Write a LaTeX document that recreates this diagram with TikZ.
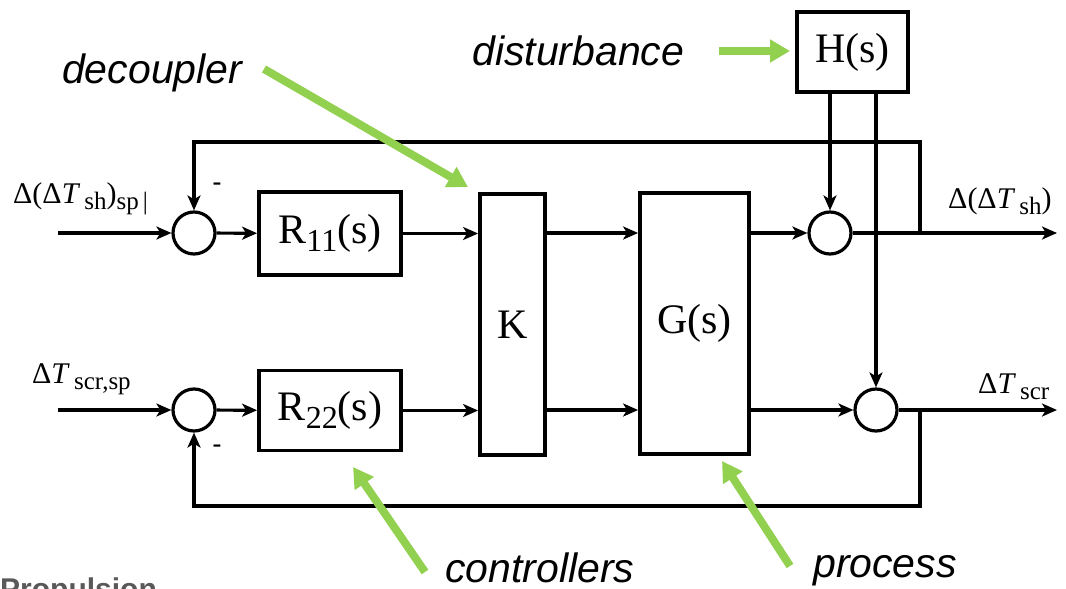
\documentclass[tikz,border=0pt]{standalone}
\usepackage{fontspec}
\setmainfont{Liberation Serif}
\newfontfamily\lsans{Liberation Sans}
\usetikzlibrary{arrows.meta}
\definecolor{grn}{HTML}{92D050}
\newcommand\fs[1]{\fontsize{#1}{#1}\selectfont}
\newcommand\sbx[1]{\raisebox{-6pt}{\fs{25}#1}}
\newcommand\sbr[1]{\raisebox{-8pt}{\fs{32}#1}}
\begin{document}
\begin{tikzpicture}[x=1pt,y=-1pt,
  blk/.style={draw,line width=3.8pt,inner sep=0pt,font=\fs{42}},
  sumc/.style={draw,circle,line width=3.2pt,minimum size=42pt,inner sep=0pt},
  sig/.style={line width=3.2pt,-{Stealth[length=15pt,width=13pt,inset=4pt]}},
  wire/.style={line width=3.2pt},
  note/.style={line width=8pt,grn,-{Triangle[length=20pt,width=22pt]}},
  lab/.style={inner sep=0pt,anchor=base west,font=\fs{30}},
  tag/.style={inner sep=0pt,anchor=base west,font=\lsans\itshape\fs{41}}]
\useasboundingbox (0,0) rectangle (1066,589);
\clip (0,0) rectangle (1066,589);
% blocks
\node[blk,minimum width=142pt,minimum height=83pt] (r11) at (330,233.5) {R\sbr{11}(s)};
\node[blk,minimum width=142pt,minimum height=80pt] (r22) at (330,410.5) {R\sbr{22}(s)};
\node[blk,minimum width=65pt,minimum height=261pt] (k) at (512.5,324.5) {K};
\node[blk,minimum width=109pt,minimum height=261pt] (g) at (694.5,323.5) {G(s)};
\node[blk,minimum width=111pt,minimum height=80pt] (h) at (852.5,52) {H(s)};
% summing junctions
\node[sumc] (s1) at (194,233) {};
\node[sumc] (s2) at (194,410) {};
\node[sumc] (s3) at (830,233) {};
\node[sumc] (s4) at (876,410) {};
% free ends
\coordinate (in1) at (58,233);
\coordinate (in2) at (58,410);
\coordinate (out1) at (1057,233);
\coordinate (out2) at (1057,410);
\coordinate (fb1) at (920,233);
\coordinate (fb2) at (920,410);
\coordinate (ft) at (920,142);
\coordinate (fbt) at (920,506);
% signal lines
\draw[sig] (in1) -- (s1);
\draw[sig] (s1) -- (r11);
\draw[sig] (r11.east) -- (k.west |- r11.east);
\draw[sig] (k.east |- s1) -- (g.west |- s1);
\draw[sig] (g.east |- s3) -- (s3);
\draw[sig] (s3) -- (out1);
\draw[sig] (fb1) -- (ft) -| (s1);
\draw[sig] (in2) -- (s2);
\draw[sig] (s2) -- (r22);
\draw[sig] (r22.east) -- (k.west |- r22.east);
\draw[sig] (k.east |- s2) -- (g.west |- s2);
\draw[sig] (g.east |- s4) -- (s4);
\draw[sig] (s4) -- (out2);
\draw[sig] (fb2) -- (fbt) -| (s2);
\draw[sig] (h.south -| s3) -- (s3);
\draw[sig] (h.south -| s4) -- (s4);
% signal labels
\node[lab] (l1) at (13,203) {Δ(Δ\textit{T}\sbx{\,sh})\sbx{sp\,|}};
\node[lab] (l2) at (32,383) {Δ\textit{T}\sbx{\,scr,sp}};
\node[lab] (l3) at (948,208) {Δ(Δ\textit{T}\sbx{\,sh})};
\node[lab] (l4) at (978,393) {Δ\textit{T}\sbx{\,scr}};
\node[font=\lsans\fs{28},inner sep=0pt] (m1) at (217,187) {-};
\node[font=\lsans\fs{28},inner sep=0pt] (m2) at (217,449) {-};
% annotations
\node[tag] (tdist) at (472,65) {disturbance};
\node[tag] (tdec) at (62,83) {decoupler};
\node[tag] (tcon) at (445,582) {controllers};
\node[tag] (tpro) at (813,577) {process};
\coordinate (a1) at (719,51);
\coordinate (a2) at (790,51);
\coordinate (b1) at (264,69);
\coordinate (b2) at (468,187);
\coordinate (c1) at (425,572);
\coordinate (c2) at (353,467);
\coordinate (e1) at (790,566);
\coordinate (e2) at (722,461);
\draw[note] (a1) -- (a2);
\draw[note] (b1) -- (b2);
\draw[note] (c1) -- (c2);
\draw[note] (e1) -- (e2);
\node[inner sep=0pt,anchor=base west,font=\lsans\bfseries\fs{30},text=black!65] (prop) at (0,599) {Propulsion};
\end{tikzpicture}
\end{document}
